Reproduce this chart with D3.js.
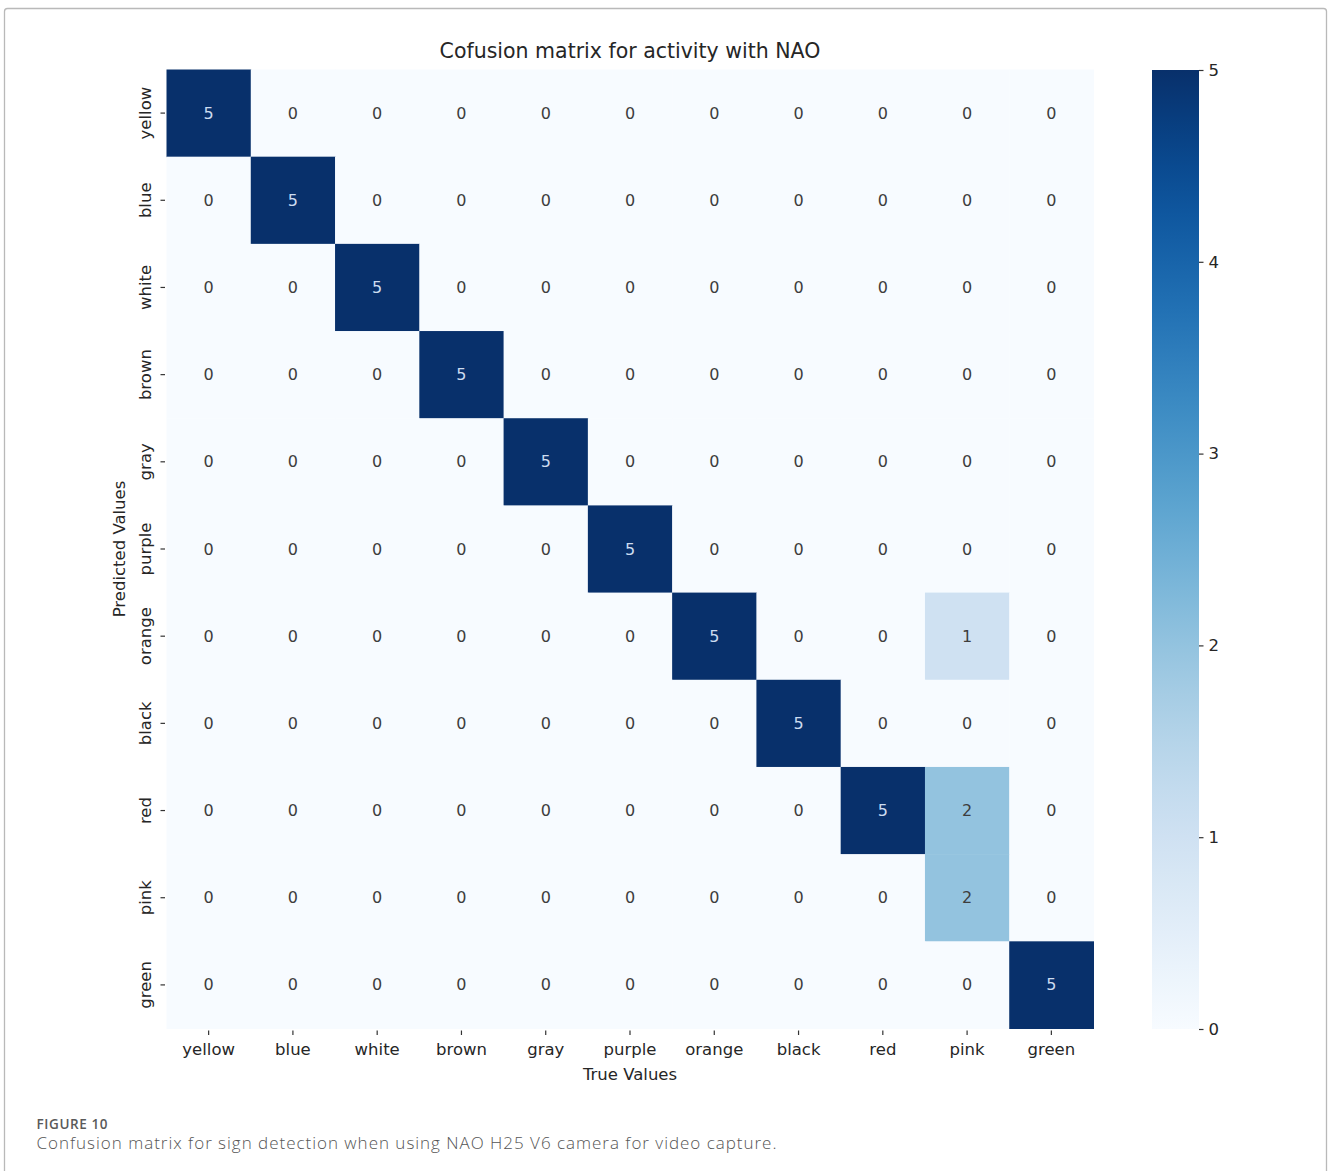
<!DOCTYPE html>
<html>
<head>
<meta charset="utf-8">
<script src="https://cdn.jsdelivr.net/npm/d3@7"></script>
<style>
  html, body { margin: 0; padding: 0; background: #fff; }
  svg { display: block; }
</style>
</head>
<body>
<svg id="chart" width="1328" height="1171"></svg>
<script>
// Class labels (same order on both axes)
const classes = ["yellow", "blue", "white", "brown", "gray", "purple", "orange", "black", "red", "pink", "green"];

// Counts: one row per predicted class, one column per true class
const predYellow = [5, 0, 0, 0, 0, 0, 0, 0, 0, 0, 0];
const predBlue   = [0, 5, 0, 0, 0, 0, 0, 0, 0, 0, 0];
const predWhite  = [0, 0, 5, 0, 0, 0, 0, 0, 0, 0, 0];
const predBrown  = [0, 0, 0, 5, 0, 0, 0, 0, 0, 0, 0];
const predGray   = [0, 0, 0, 0, 5, 0, 0, 0, 0, 0, 0];
const predPurple = [0, 0, 0, 0, 0, 5, 0, 0, 0, 0, 0];
const predOrange = [0, 0, 0, 0, 0, 0, 5, 0, 0, 1, 0];
const predBlack  = [0, 0, 0, 0, 0, 0, 0, 5, 0, 0, 0];
const predRed    = [0, 0, 0, 0, 0, 0, 0, 0, 5, 2, 0];
const predPink   = [0, 0, 0, 0, 0, 0, 0, 0, 0, 2, 0];
const predGreen  = [0, 0, 0, 0, 0, 0, 0, 0, 0, 0, 5];
const counts = [predYellow, predBlue, predWhite, predBrown, predGray, predPurple,
                predOrange, predBlack, predRed, predPink, predGreen];

// Colour bar ticks
const colorbarTicks = [0, 1, 2, 3, 4, 5];

const title = "Cofusion matrix for activity with NAO";
const xTitle = "True Values";
const yTitle = "Predicted Values";
const figLabel = "FIGURE 10";
const caption = "Confusion matrix for sign detection when using NAO H25 V6 camera for video capture.";

const svg = d3.select("#chart");
const FONT = "'DejaVu Sans', sans-serif";
const TEXT = "#262626";

// Outer figure frame
svg.append("rect")
  .attr("x", 4.5).attr("y", 8.5)
  .attr("width", 1322).attr("height", 1180)
  .attr("rx", 3)
  .attr("fill", "#fff")
  .attr("stroke", "#b9b9b9")
  .attr("stroke-width", 1.3);

// Heatmap geometry
const plot = { left: 166.5, right: 1093.5, top: 69.5, bottom: 1028.5 };

const x = d3.scaleBand().domain(classes).range([plot.left, plot.right]);
const y = d3.scaleBand().domain(classes).range([plot.top, plot.bottom]);
const vmax = d3.max(counts, r => d3.max(r));
const color = d3.scaleSequential(d3.interpolateBlues).domain([0, vmax]);

const cells = [];
counts.forEach((row, i) => row.forEach((v, j) => {
  cells.push({ pred: classes[i], truth: classes[j], value: v });
}));

const g = svg.append("g");
g.selectAll("rect.cell")
  .data(cells)
  .join("rect")
  .attr("class", "cell")
  .attr("x", d => x(d.truth))
  .attr("y", d => y(d.pred))
  .attr("width", x.bandwidth() + 0.5)
  .attr("height", y.bandwidth() + 0.5)
  .attr("fill", d => color(d.value));

// Cell annotations: light text on dark cells, dark text on light cells
g.selectAll("text.annot")
  .data(cells)
  .join("text")
  .attr("class", "annot")
  .attr("x", d => x(d.truth) + x.bandwidth() / 2)
  .attr("y", d => y(d.pred) + y.bandwidth() / 2)
  .attr("text-anchor", "middle")
  .attr("dominant-baseline", "central")
  .attr("font-family", FONT)
  .attr("font-size", 16)
  .attr("fill", d => d.value / vmax > 0.6 ? "#cddcf0" : "#3d3d3d")
  .text(d => d.value);

// X axis
const xAxis = d3.axisBottom(x).tickSize(4.5).tickPadding(8);
const gx = svg.append("g")
  .attr("transform", `translate(0,${plot.bottom + 2})`)
  .call(xAxis);
gx.select(".domain").remove();
gx.selectAll(".tick line").attr("stroke", "#333").attr("stroke-width", 1.2);
gx.selectAll(".tick text")
  .attr("font-family", FONT).attr("font-size", 16.5).attr("fill", TEXT);

// Y axis with vertical labels centred on each row
const yAxis = d3.axisLeft(y).tickSize(4.5).tickPadding(6);
const gy = svg.append("g")
  .attr("transform", `translate(${plot.left - 1.5},0)`)
  .call(yAxis);
gy.select(".domain").remove();
gy.selectAll(".tick line").attr("stroke", "#333").attr("stroke-width", 1.2);
gy.selectAll(".tick text")
  .attr("font-family", FONT).attr("font-size", 16.5).attr("fill", TEXT)
  .attr("dy", null)
  .attr("transform", "rotate(-90)")
  .attr("text-anchor", "middle")
  .attr("dominant-baseline", "central")
  .attr("x", 0).attr("y", -20);

// Axis titles
svg.append("text")
  .attr("x", (plot.left + plot.right) / 2)
  .attr("y", 1080)
  .attr("text-anchor", "middle")
  .attr("font-family", FONT).attr("font-size", 16.5).attr("fill", TEXT)
  .text(xTitle);

svg.append("text")
  .attr("transform", `translate(125,${(plot.top + plot.bottom) / 2}) rotate(-90)`)
  .attr("text-anchor", "middle")
  .attr("font-family", FONT).attr("font-size", 16.5).attr("fill", TEXT)
  .text(yTitle);

// Title
svg.append("text")
  .attr("x", (plot.left + plot.right) / 2)
  .attr("y", 58)
  .attr("text-anchor", "middle")
  .attr("font-family", FONT).attr("font-size", 20.5).attr("fill", TEXT)
  .text(title);

// Colour bar
const cb = { left: 1152, width: 47, top: 70, bottom: 1029 };
const defs = svg.append("defs");
const grad = defs.append("linearGradient")
  .attr("id", "cbGrad")
  .attr("x1", "0").attr("y1", "1").attr("x2", "0").attr("y2", "0");
d3.range(0, 1.0001, 0.05).forEach(t => {
  grad.append("stop")
    .attr("offset", t)
    .attr("stop-color", color(t * vmax));
});
svg.append("rect")
  .attr("x", cb.left).attr("y", cb.top)
  .attr("width", cb.width).attr("height", cb.bottom - cb.top)
  .attr("fill", "url(#cbGrad)");

const cbScale = d3.scaleLinear().domain([0, vmax]).range([cb.bottom, cb.top]);
const gcb = svg.append("g")
  .attr("transform", `translate(${cb.left + cb.width},0)`)
  .call(d3.axisRight(cbScale).tickValues(colorbarTicks).tickSize(4.5).tickPadding(5).tickFormat(d3.format("d")));
gcb.select(".domain").remove();
gcb.selectAll(".tick line").attr("stroke", "#333").attr("stroke-width", 1.2);
gcb.selectAll(".tick text")
  .attr("font-family", FONT).attr("font-size", 16.5).attr("fill", TEXT);

// Figure caption
svg.append("text")
  .attr("x", 36.5).attr("y", 1129)
  .attr("font-family", "'Open Sans', sans-serif")
  .attr("font-size", 13.5).attr("font-weight", 600)
  .attr("fill", "#5a5a5a")
  .attr("textLength", 71).attr("lengthAdjust", "spacing")
  .text(figLabel);

svg.append("text")
  .attr("x", 36.5).attr("y", 1149)
  .attr("font-family", "'Open Sans', sans-serif")
  .attr("font-size", 17).attr("font-weight", 300)
  .attr("fill", "#555")
  .attr("textLength", 740).attr("lengthAdjust", "spacing")
  .text(caption);
</script>
</body>
</html>
